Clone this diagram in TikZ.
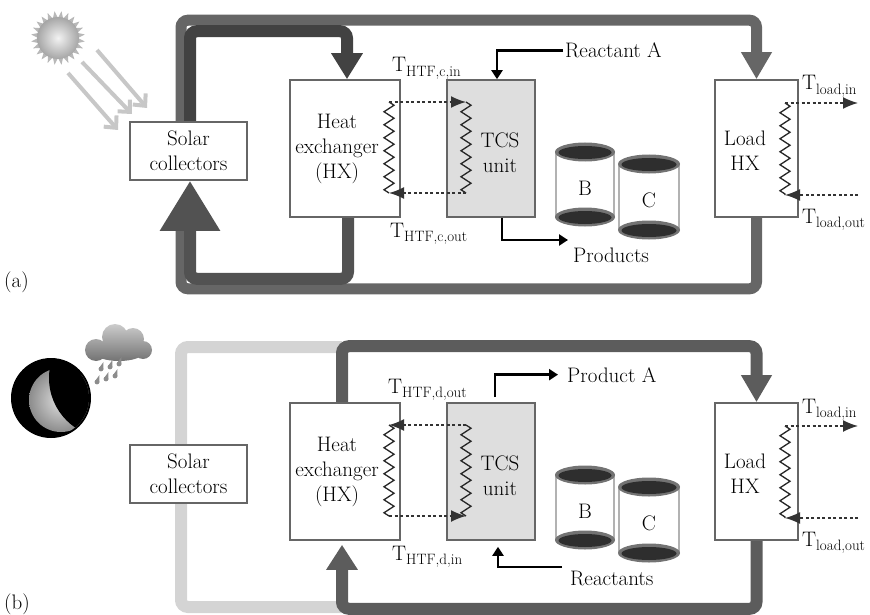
\documentclass[tikz,border=0pt]{standalone}
\usepackage[svgnames, dvipsnames, usenames]{xcolor}
\usepackage{amsmath}
\usepackage{tikz}
\usetikzlibrary{arrows.meta,decorations.pathmorphing,backgrounds}

\newcommand{\Tlbl}[1]{T\raisebox{-4.5pt}{\fontsize{15}{15}\selectfont #1}}

\begin{document}
\begin{tikzpicture}[x=1pt, y=-1pt,
  every node/.style={font=\fontsize{21}{25}\selectfont},
  txt/.style={align=center},
  lbl/.style={anchor=base west, inner sep=0pt},
  unit/.style={draw=black!60, line width=1.6pt, fill=white, inner sep=0pt, minimum height=137pt},
  pipeDark/.style={line width=12pt, black!74, rounded corners=7pt},
  pipeGray/.style={line width=11pt, black!60, rounded corners=7pt},
  pipeLight/.style={line width=12pt, black!17, rounded corners=7pt},
  coil/.style={decorate, decoration={zigzag, segment length=13pt, amplitude=5pt}, line width=1.3pt, black!85},
  htf/.style={line width=1.5pt, black!80, dash pattern=on 3pt off 2.5pt, -{Latex[length=15pt,width=12pt]}},
  feed/.style={line width=2.6pt, -{Triangle[length=9pt,width=11pt]}},
  ray/.style={black!22, line width=4pt, -{Straight Barb[length=9pt,width=17pt]}}
]
\useasboundingbox (0,0) rectangle (870,615);

%%%%% (a) charging %%%%%
\node[unit, minimum width=117pt, minimum height=58pt, txt] (solarA) at (188.5,151) {Solar\\collectors};
\node[unit, minimum width=110pt] (hxA) at (345,148.5) {};
\node[txt] (hxTxtA) at (337,149) {Heat\\exchanger\\(HX)};
\node[unit, fill=black!13, minimum width=88pt] (tcsA) at (491,148.5) {};
\node[txt] (tcsTxtA) at (500,153) {TCS\\unit};
\node[unit, minimum width=83pt] (loadA) at (756.5,148.5) {};
\node[txt] (loadTxtA) at (745,151) {Load\\HX};

\coordinate (hxTopA) at (389,102);  \coordinate (hxBotA) at (389,193);
\coordinate (tcsTopA) at (466,102); \coordinate (tcsBotA) at (466,193);
\coordinate (ldTopA) at (785,103);  \coordinate (ldBotA) at (785,195);
\coordinate (ldOutA) at (858,103);  \coordinate (ldInA) at (858,195);
\draw[coil] (hxTopA) -- (hxBotA);
\draw[coil] (tcsTopA) -- (tcsBotA);
\draw[coil] (ldTopA) -- (ldBotA);
\draw[htf] (hxTopA) -- (tcsTopA);
\draw[htf] (tcsBotA) -- (hxBotA);
\draw[htf] (ldTopA) -- (ldOutA);
\draw[htf] (ldInA) -- (ldBotA);

\node[lbl] (tInA) at (392,72) {\Tlbl{HTF,c,in}};
\node[lbl] (tOutA) at (390,237) {\Tlbl{HTF,c,out}};
\node[lbl] (tLdInA) at (802,90) {\Tlbl{load,in}};
\node[lbl] (tLdOutA) at (802,223) {\Tlbl{load,out}};

\node[lbl] (reactA) at (565,58) {Reactant A};
\draw[feed] ([xshift=-2pt]reactA.west) -| ([xshift=6pt]tcsA.north);
\node[lbl] (prodA) at (573,262) {Products};
\coordinate (prodEndA) at (568,240);
\draw[feed] ([xshift=11pt]tcsA.south) |- (prodEndA);

\node[lbl] (tagA) at (4,287) {(a)};

%%%%% (b) discharging %%%%%
\node[unit, minimum width=117pt, minimum height=58pt, txt] (solarB) at (188.5,474) {Solar\\collectors};
\node[unit, minimum width=110pt] (hxB) at (345,471.5) {};
\node[txt] (hxTxtB) at (337,472) {Heat\\exchanger\\(HX)};
\node[unit, fill=black!13, minimum width=88pt] (tcsB) at (491,471.5) {};
\node[txt] (tcsTxtB) at (500,476) {TCS\\unit};
\node[unit, minimum width=83pt] (loadB) at (756.5,471.5) {};
\node[txt] (loadTxtB) at (745,474) {Load\\HX};

\coordinate (hxTopB) at (389,425);  \coordinate (hxBotB) at (389,516);
\coordinate (tcsTopB) at (466,425); \coordinate (tcsBotB) at (466,516);
\coordinate (ldTopB) at (785,426);  \coordinate (ldBotB) at (785,518);
\coordinate (ldOutB) at (858,426);  \coordinate (ldInB) at (858,518);
\draw[coil] (hxTopB) -- (hxBotB);
\draw[coil] (tcsTopB) -- (tcsBotB);
\draw[coil] (ldTopB) -- (ldBotB);
\draw[htf] (tcsTopB) -- (hxTopB);
\draw[htf] (hxBotB) -- (tcsBotB);
\draw[htf] (ldTopB) -- (ldOutB);
\draw[htf] (ldInB) -- (ldBotB);

\node[lbl] (tOutB) at (388,393) {\Tlbl{HTF,d,out}};
\node[lbl] (tInB) at (392,560) {\Tlbl{HTF,d,in}};
\node[lbl] (tLdInB) at (802,413) {\Tlbl{load,in}};
\node[lbl] (tLdOutB) at (802,546) {\Tlbl{load,out}};

\node[lbl] (prodB) at (567,382) {Product A};
\draw[feed] ([xshift=4pt,yshift=5pt]tcsB.north) |- ([xshift=-9pt]prodB.west);
\node[lbl] (reactB) at (570,585) {Reactants};
\coordinate (reactStartB) at (562,567);
\draw[feed] (reactStartB) -| ([xshift=7pt,yshift=-6pt]tcsB.south);

\node[lbl] (tagB) at (4,609) {(b)};

%%%%% Tanks %%%%%
\foreach \dy/\p in {0/A,323/B}{
  \foreach \cx/\cy/\rx/\hh/\nm in {585/152/30/65/B, 649/164/31/66/C}{
    \fill[white] (\cx-\rx,\cy+\dy) rectangle (\cx+\rx,\cy+\hh+\dy);
    \draw[black!30, line width=1.2pt] (\cx-\rx+1,\cy+\dy) -- ++(0,\hh) (\cx+\rx-1,\cy+\dy) -- ++(0,\hh);
    \foreach \yy in {0,\hh}{
      \fill[black!55] (\cx,\cy+\dy+\yy) ellipse [x radius=\rx, y radius=9.5];
      \fill[black!82] (\cx,\cy+\dy+\yy+0.5) ellipse [x radius=\rx-3.5, y radius=6.5];
    }
    \node (tank\nm\p) at (\cx,\cy+\dy+\hh/2+3.5) {\nm};
  }
}

%%%%% Sun and rays %%%%%
\coordinate (sun) at (58,38);
\foreach \a in {0,15,...,345}
  \fill[black!28] ([shift={(sun)}]\a:20) -- ([shift={(sun)}]\a+7.5:27) -- ([shift={(sun)}]\a+15:20) -- cycle;
\shade[inner color=black!5, outer color=black!35] (sun) circle [radius=21];
\foreach \sx/\sy/\ex/\ey in {97/50/147/108, 82/62/132/114, 68/73/118/130}
  \draw[ray] (\sx,\sy) -- (\ex,\ey);

%%%%% Moon and rain %%%%%
\coordinate (moon) at (51,398);
\fill[black] (moon) circle [radius=40];
\begin{scope}
  \clip (moon) circle [radius=38];
  \shade[inner color=black!12, outer color=black!45] (61,400) circle [radius=32];
  \fill[black] (109,378) circle [radius=60];
\end{scope}
\shade[top color=black!20, bottom color=black!55] (96,350) circle [radius=11] (115,337) circle [radius=13]
  (133,339) circle [radius=11] (143,350) circle [radius=9] (119,352) ellipse [x radius=25, y radius=9];
\foreach \qx/\qy in {97/382, 106/379, 115/376, 101/369, 110/367, 119/364}{
  \fill[black!45] (\qx,\qy) circle [radius=2.4];
  \fill[black!45] (\qx-2.3,\qy-0.6) -- (\qx+2.5,\qy-7) -- (\qx+2.3,\qy+0.6) -- cycle;
}

%%%%% Pipes %%%%%
\begin{scope}[on background layer]
  % (a): load loop, then HX loop over it
  \draw[pipeGray, -{Triangle[length=27pt,width=29pt]}] ([xshift=-7.5pt]solarA.north) |- ([yshift=59pt]loadA.north) -- (loadA.north);
  \draw[pipeGray] (loadA.south) -- ++(0,71) -| ([xshift=-7.5pt,yshift=-50pt]solarA.south);
  \draw[pipeDark, -{Triangle[length=26pt,width=30pt]}] ([xshift=1.5pt]solarA.north) |- ([xshift=2pt,yshift=48pt]hxA.north) -- ([xshift=2pt]hxA.north);
  \draw[pipeDark, black!68, -{Triangle[length=50pt,width=57pt]}] ([xshift=3pt]hxA.south) -- ++(0,61) -| ([xshift=1.5pt]solarA.south);
  % (b): idle collector loop, then HX--load loop
  \coordinate (idleTopB) at (342,347);
  \coordinate (idleBotB) at (342,607);
  \draw[pipeLight] (idleTopB) -| ([xshift=-7.5pt]solarB.center) |- (idleBotB);
  \draw[pipeDark, black!64, -{Triangle[length=27pt,width=29pt]}] ([xshift=-3pt]hxB.north) |- ([yshift=56pt]loadB.north) -- (loadB.north);
  \draw[pipeDark, black!64, -{Triangle[length=25pt,width=30pt]}] (loadB.south) -- ++(0,68) -| ([xshift=-3pt,yshift=-4pt]hxB.south);
\end{scope}
\end{tikzpicture}
\end{document}
